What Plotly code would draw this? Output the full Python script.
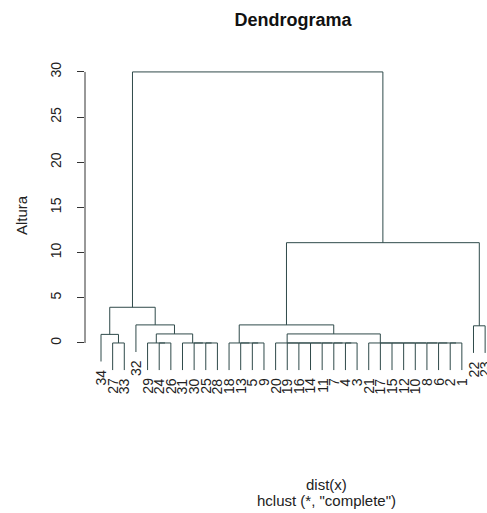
import plotly.graph_objects as go

# ---- data ----
# merges in R hclust style: negative = leaf label, positive = earlier merge (1-based)
merge_left = [-27, -24, -29, -25, -30, -31, -5, -13, -18, -4, -7, -11, -14, -16, -19, -20,
              -2, -6, -8, -10, -12, -15, -17, -21, -34, 3, 16, -22, -32, 9, 25, 30, 31]
merge_right = [-33, -26, 2, -28, 4, 5, -9, 7, 8, -3, 10, 11, 12, 13, 14, 15,
               -1, 17, 18, 19, 20, 21, 22, 23, 1, 6, 24, -23, 26, 27, 29, 28, 32]
merge_height = [0, 0, 0, 0, 0, 0, 0, 0, 0, 0, 0, 0, 0, 0, 0, 0,
                0, 0, 0, 0, 0, 0, 0, 0, 0.95, 1.0, 1.0, 1.9, 2.0, 2.0, 3.95, 11.1, 30.0]
y_ticks = [0, 5, 10, 15, 20, 25, 30]
hang = 0.1 * (max(merge_height) - min(merge_height))

# ---- leaf order (left-first traversal) ----
order = []
def traverse(c):
    if c < 0:
        order.append(-c)
    else:
        traverse(merge_left[c - 1])
        traverse(merge_right[c - 1])
traverse(len(merge_height))
leaf_pos = {lab: i + 1 for i, lab in enumerate(order)}

node_x = {}
def xpos(c):
    if c < 0:
        return leaf_pos[-c]
    if c not in node_x:
        node_x[c] = (xpos(merge_left[c - 1]) + xpos(merge_right[c - 1])) / 2
    return node_x[c]

xs, ys = [], []
leaf_bottom = {}
for i in range(len(merge_height)):
    h = merge_height[i]
    pts = []
    for c in (merge_left[i], merge_right[i]):
        if c < 0:
            yb = h - hang
            leaf_bottom[-c] = yb
        else:
            yb = merge_height[c - 1]
        pts.append((xpos(c), yb))
    (x1, y1), (x2, y2) = pts
    xs += [x1, x1, x2, x2, None]
    ys += [y1, h, h, y2, None]

LINE = "#2f4a4a"
FONT = "Liberation Sans, Arial, Helvetica, sans-serif"

fig = go.Figure()
fig.add_trace(go.Scatter(x=xs, y=ys, mode="lines", line=dict(color=LINE, width=1),
                         hoverinfo="skip", showlegend=False))

W, H = 487, 513
L, R, T, B = 85, 0, 60, 131
n = len(order)
x_lo = -0.375
px_per = 11.64
x_hi = x_lo + (W - L - R) / px_per
y_lo, y_hi = -4.32, 31.32

annotations = []
for lab in order:
    annotations.append(dict(x=leaf_pos[lab], y=leaf_bottom[lab], xref="x", yref="y",
                             text=str(lab), textangle=-90, showarrow=False,
                             xanchor="center", yanchor="top", yshift=-6,
                             font=dict(family=FONT, size=14, color="#222")))
annotations.append(dict(x=(21 - L) / (W - L - R), y=(H - B - 215) / (H - T - B), xref="paper", yref="paper",
                        text="Altura", textangle=-90, showarrow=False,
                        xanchor="center", yanchor="middle",
                        font=dict(family=FONT, size=15, color="#222")))
annotations.append(dict(x=293 / W, y=1 - 484 / H, xref="paper", yref="paper",
                        text="dist(x)", showarrow=False, xanchor="center", yanchor="middle",
                        font=dict(family=FONT, size=15, color="#222")))
annotations.append(dict(x=293 / W, y=1 - 501 / H, xref="paper", yref="paper",
                        text='hclust (*, "complete")', showarrow=False, xanchor="center", yanchor="middle",
                        font=dict(family=FONT, size=15, color="#222")))
# fix paper-coords for bottom texts (paper y is relative to plot area)
for a in annotations[-2:]:
    py = 484 if a["text"] == "dist(x)" else 501
    a["y"] = (H - B - py) / (H - T - B)

fig.update_layout(
    width=W, height=H, margin=dict(l=L, r=R, t=T, b=B),
    paper_bgcolor="white", plot_bgcolor="white",
    title=dict(text="<b>Dendrograma</b>", x=293 / W, xanchor="center", y=1 - 20 / H, yanchor="middle",
               font=dict(family=FONT, size=18, color="#111")),
    xaxis=dict(range=[x_lo, x_hi], visible=False, showgrid=False, zeroline=False),
    yaxis=dict(range=[y_lo, y_hi], tickvals=y_ticks, ticktext=[str(t) for t in y_ticks],
               ticks="outside", ticklen=7, tickcolor="#333", tickwidth=1,
               tickangle=-90, ticklabelstandoff=10,
               tickfont=dict(family=FONT, size=14, color="#222"),
               showgrid=False, zeroline=False, showline=False),
    annotations=annotations,
    shapes=[dict(type="line", xref="paper", yref="y", x0=0, x1=0, y0=y_ticks[0], y1=y_ticks[-1],
                 line=dict(color="#333", width=1))],
)
fig.write_html("out.html")
